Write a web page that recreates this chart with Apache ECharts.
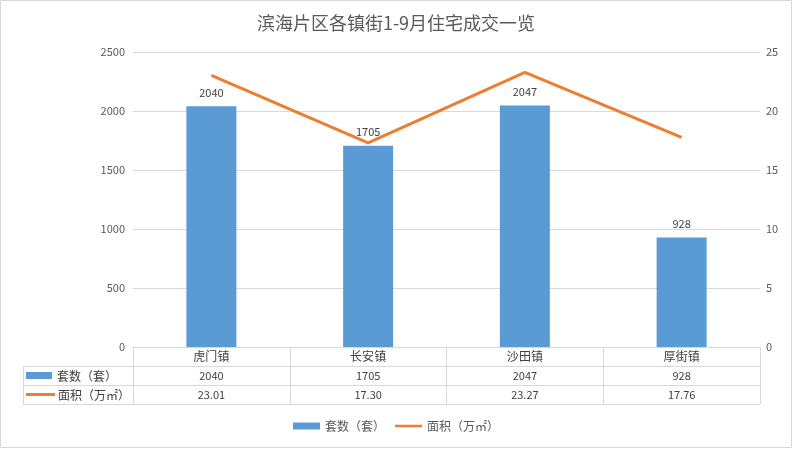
<!DOCTYPE html>
<html><head><meta charset="utf-8">
<script src="https://cdn.jsdelivr.net/npm/echarts@6/dist/echarts.min.js"></script>
<style>html,body{margin:0;padding:0;background:#fff}#c{width:792px;height:449px}</style>
</head><body><div id="c"></div>
<script>
const title = '滨海片区各镇街1-9月住宅成交一览';
const categories = ['虎门镇', '长安镇', '沙田镇', '厚街镇'];
const barName = '套数（套）';
const lineName = '面积（万㎡）';
const barValues = [2040, 1705, 2047, 928];
const lineValues = [23.01, 17.30, 23.27, 17.76];
const lineLabels = ['23.01', '17.30', '23.27', '17.76'];
const leftTicks = [0, 2500, 500];
const rightTicks = [0, 25, 5];

const FONT = '"Noto Sans CJK SC", "Noto Sans", sans-serif';
const BLUE = '#5B9BD5', ORANGE = '#ED7D31', GRID = '#d9d9d9', TXT = '#595959', DARK = '#404040';
const L = 133, R = 760, T = 52, B = 347, ROW = 19, TL = 23;
const LINE_ICON = 'path://M0,0L0.01,0L0.01,0.01Z M0,2.2L28,2.2L28,4.8L0,4.8Z M0,7L0.01,7L0.01,6.99Z';

const chart = echarts.init(document.getElementById('c'));
const hline = (y, x1, x2) => ({type: 'line', shape: {x1: x1, y1: y + 0.5, x2: x2, y2: y + 0.5}, style: {stroke: GRID, lineWidth: 1}, silent: true});
chart.setOption({
  animation: false,
  textStyle: {fontFamily: FONT},
  title: {text: title, left: 'center', top: 9, textStyle: {fontFamily: FONT, fontSize: 18, fontWeight: 'normal', color: TXT}},
  legend: {bottom: 12, left: 'center', itemWidth: 27, itemHeight: 7, itemGap: 10,
    textStyle: {fontFamily: FONT, fontSize: 12, color: TXT},
    data: [{name: barName, icon: 'rect'}, {name: lineName, icon: LINE_ICON, itemStyle: {color: ORANGE}}]},
  grid: {left: L, right: 792 - R, top: T, bottom: 449 - B},
  xAxis: [
    {type: 'category', data: categories, position: 'bottom',
      axisLine: {lineStyle: {color: GRID}},
      axisTick: {show: true, length: ROW * 3, lineStyle: {color: GRID}},
      axisLabel: {color: DARK, fontSize: 12, margin: 3, fontFamily: FONT}},
    {type: 'category', data: barValues.map(String), position: 'bottom', offset: ROW,
      axisLine: {show: false}, axisTick: {show: false},
      axisLabel: {color: DARK, fontSize: 11, margin: 4, fontFamily: FONT}},
    {type: 'category', data: lineLabels, position: 'bottom', offset: ROW * 2,
      axisLine: {show: false}, axisTick: {show: false},
      axisLabel: {color: DARK, fontSize: 11, margin: 4, fontFamily: FONT}}
  ],
  yAxis: [
    {type: 'value', min: leftTicks[0], max: leftTicks[1], interval: leftTicks[2],
      axisLine: {show: false}, axisTick: {show: false},
      axisLabel: {color: TXT, fontSize: 11, margin: 8, formatter: v => String(v)},
      splitLine: {lineStyle: {color: GRID}}},
    {type: 'value', min: rightTicks[0], max: rightTicks[1], interval: rightTicks[2],
      axisLine: {show: false}, axisTick: {show: false},
      axisLabel: {color: TXT, fontSize: 11, margin: 6, formatter: v => String(v)},
      splitLine: {show: false}}
  ],
  series: [
    {name: barName, type: 'bar', data: barValues, barWidth: 50, itemStyle: {color: BLUE},
      label: {show: true, position: 'top', color: DARK, fontSize: 11, distance: 8}},
    {name: lineName, type: 'line', yAxisIndex: 1, data: lineValues, symbol: 'none',
      lineStyle: {color: ORANGE, width: 3}, itemStyle: {color: ORANGE}}
  ],
  graphic: [
    {type: 'rect', shape: {x: 0.5, y: 0.5, width: 791, height: 447}, style: {fill: 'none', stroke: GRID, lineWidth: 1}, silent: true},
    hline(B + ROW, TL, R), hline(B + ROW * 2, TL, R), hline(B + ROW * 3, TL, R),
    {type: 'line', shape: {x1: TL + 0.5, y1: B + ROW, x2: TL + 0.5, y2: B + ROW * 3}, style: {stroke: GRID, lineWidth: 1}, silent: true},
    {type: 'rect', shape: {x: 26, y: B + ROW + 6, width: 26, height: 7}, style: {fill: BLUE}, silent: true},
    {type: 'text', x: 57, y: B + ROW + 10, style: {text: barName, fill: DARK, font: '12px ' + FONT, textVerticalAlign: 'middle'}, silent: true},
    {type: 'line', shape: {x1: 26, y1: B + ROW * 2 + 9.5, x2: 55, y2: B + ROW * 2 + 9.5}, style: {stroke: ORANGE, lineWidth: 3}, silent: true},
    {type: 'text', x: 58, y: B + ROW * 2 + 10, style: {text: lineName, fill: DARK, font: '12px ' + FONT, textVerticalAlign: 'middle'}, silent: true}
  ]
});
</script></body></html>
